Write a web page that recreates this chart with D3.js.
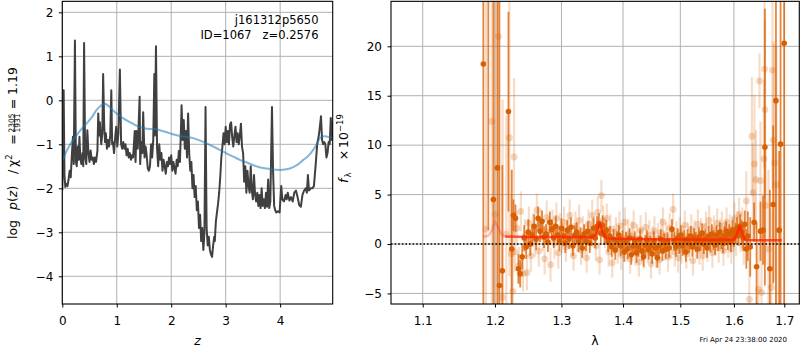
<!DOCTYPE html>
<html><head><meta charset="utf-8">
<script src="https://cdn.jsdelivr.net/npm/d3@7"></script>
<style>
body{margin:0;background:#fff}
svg{display:block}
text{font-family:"DejaVu Sans",sans-serif;fill:#000}
</style>
</head><body>
<svg id="c" width="800" height="350"></svg>
<script>
// ---------------- DATA ----------------
const zTicks = [0, 1, 2, 3, 4];
const logpTicks = [2, 1, 0, -1, -2, -3, -4];
const lamTicks = [1.1, 1.2, 1.3, 1.4, 1.5, 1.6, 1.7];
const fluxTicks = [-5, 0, 5, 10, 15, 20];

// log p(z) curve  [z, log p]
const pzCurve = [
[0.000,-2.05],[0.015,-1.30],[0.025,0.23],[0.040,-1.70],[0.055,-1.97],[0.075,-1.90],[0.095,-1.95],[0.115,-1.80],
[0.135,-1.60],[0.155,-1.75],[0.175,-1.25],[0.195,-0.83],[0.210,-1.45],[0.232,1.36],[0.250,-1.40],[0.265,-1.50],
[0.285,-1.05],[0.300,-1.35],[0.315,-0.83],[0.330,-1.30],[0.350,-1.45],[0.370,-1.20],[0.385,-1.50],[0.400,1.30],
[0.420,-1.30],[0.440,-1.45],[0.460,-0.68],[0.480,-1.20],[0.500,-1.40],[0.520,-1.14],[0.540,-1.35],[0.560,-1.30],
[0.580,-1.45],[0.600,-1.30],[0.620,-1.40],[0.645,-1.15],[0.660,-0.30],[0.675,-0.80],[0.690,-0.50],[0.715,-1.00],
[0.735,-0.75],[0.750,0.60],[0.770,-0.60],[0.785,-0.95],[0.800,-0.75],[0.820,-1.10],[0.840,-0.90],[0.860,-1.05],
[0.880,-0.80],[0.900,0.23],[0.915,-1.00],[0.930,-0.95],[0.950,-1.20],[0.970,-0.85],[0.990,-0.60],[1.010,-1.05],
[1.030,-0.75],[1.057,0.70],[1.080,-1.00],[1.100,-1.10],[1.120,-0.95],[1.140,-1.10],[1.160,-1.00],[1.180,-1.25],
[1.200,-1.10],[1.220,-1.30],[1.240,-1.20],[1.260,-1.35],[1.280,-1.25],[1.300,-1.30],[1.330,-0.70],[1.345,-1.40],
[1.360,-0.70],[1.385,-1.10],[1.420,0.08],[1.430,-1.45],[1.450,-0.95],[1.470,-1.20],[1.485,-0.27],[1.510,-1.30],
[1.530,-1.05],[1.545,-1.20],[1.570,-1.55],[1.590,-1.60],[1.610,-1.50],[1.630,-1.00],[1.650,-1.30],[1.670,-0.90],
[1.690,0.60],[1.700,-0.80],[1.720,1.23],[1.740,-1.10],[1.760,-1.50],[1.780,-1.00],[1.800,-1.35],[1.820,-1.20],
[1.840,-1.60],[1.860,-1.35],[1.880,-1.50],[1.900,-1.67],[1.920,-1.40],[1.940,-1.50],[1.960,-1.30],[1.980,-1.45],
[2.000,-1.25],[2.020,-1.60],[2.040,-1.40],[2.060,-1.55],[2.080,-1.67],[2.100,-1.35],[2.120,-1.50],[2.140,-1.15],
[2.160,-1.40],[2.180,-0.60],[2.190,-0.11],[2.210,-0.90],[2.230,-0.45],[2.250,-1.10],[2.270,-0.70],[2.290,-1.30],
[2.310,-0.30],[2.330,-1.20],[2.350,-1.60],[2.370,-1.40],[2.390,-2.00],[2.410,-1.70],[2.430,-2.20],[2.450,-1.95],
[2.470,-2.50],[2.490,-2.30],[2.510,-2.90],[2.530,-2.60],[2.550,-3.20],[2.570,-2.90],[2.590,-3.40],[2.610,-3.00],
[2.630,-0.15],[2.650,-2.90],[2.670,-3.30],[2.690,-3.10],[2.710,-3.40],[2.730,-3.50],[2.750,-3.56],[2.770,-3.30],
[2.790,-3.10],[2.800,-3.20],[2.820,-2.75],[2.840,-2.55],[2.860,-2.35],[2.880,-2.10],[2.900,-1.75],[2.920,-1.30],
[2.940,-1.05],[2.960,-0.75],[2.980,-1.00],[3.000,-0.60],[3.020,-0.95],[3.040,-0.70],[3.060,-1.00],[3.080,-0.55],
[3.100,-0.50],[3.120,-0.85],[3.140,-1.05],[3.160,-0.80],[3.180,-0.60],[3.200,-0.95],[3.220,-0.75],[3.240,-1.00],
[3.260,-0.80],[3.280,-0.53],[3.300,-1.06],[3.320,-1.20],[3.340,-1.85],[3.360,-1.50],[3.380,-2.10],[3.400,-1.60],
[3.420,-1.95],[3.440,-2.10],[3.460,-1.50],[3.480,-2.05],[3.500,-2.25],[3.520,-1.70],[3.540,-2.15],[3.560,-2.30],
[3.580,-2.10],[3.600,-2.40],[3.620,-2.15],[3.640,-2.45],[3.660,-2.00],[3.680,-2.40],[3.700,-2.25],[3.720,-2.45],
[3.740,-2.10],[3.760,-2.42],[3.780,-1.80],[3.800,-2.45],[3.820,-2.30],[3.850,-0.15],[3.870,-1.60],[3.890,-2.40],
[3.910,-2.50],[3.930,-2.55],[3.960,-2.52],[3.990,-2.55],[4.020,-1.95],[4.040,-2.25],[4.070,-2.30],[4.100,-2.15],
[4.120,-2.25],[4.140,-2.10],[4.170,-2.28],[4.200,-2.20],[4.230,-2.30],[4.260,-2.10],[4.290,-2.05],[4.320,-2.20],
[4.350,-2.38],[4.380,-2.42],[4.410,-2.15],[4.440,-2.05],[4.470,-2.00],[4.490,-2.10],[4.510,-1.70],[4.530,-2.05],
[4.560,-2.00],[4.590,-2.00],[4.620,-1.95],[4.650,-1.50],[4.680,-1.00],[4.710,-0.80],[4.730,-0.60],[4.750,-0.36],
[4.770,-0.90],[4.790,-1.00],[4.810,-0.95],[4.830,-1.00],[4.850,-1.30],[4.870,-1.20],[4.890,-0.95],[4.910,-1.00],
[4.930,-0.40],[4.950,-0.90],[4.965,-0.50]
];

// smooth prior curve [z, log p]
const priorCurve = [
[0.006,-1.36],[0.10,-1.10],[0.20,-0.90],[0.32,-0.70],[0.45,-0.52],[0.55,-0.37],[0.63,-0.22],[0.70,-0.13],
[0.78,-0.08],[0.86,-0.14],[0.94,-0.24],[1.03,-0.33],[1.12,-0.41],[1.25,-0.50],[1.35,-0.57],[1.43,-0.61],
[1.52,-0.64],[1.61,-0.65],[1.70,-0.65],[1.79,-0.68],[1.90,-0.72],[2.03,-0.77],[2.16,-0.81],[2.28,-0.83],
[2.40,-0.86],[2.52,-0.91],[2.65,-0.98],[2.77,-1.05],[2.90,-1.13],[3.02,-1.21],[3.14,-1.28],[3.27,-1.36],
[3.40,-1.42],[3.50,-1.47],[3.62,-1.52],[3.75,-1.55],[3.85,-1.57],[3.93,-1.58],[4.05,-1.58],[4.18,-1.55],
[4.30,-1.48],[4.42,-1.36],[4.52,-1.26],[4.61,-1.12],[4.68,-0.98],[4.73,-0.86],[4.79,-0.82],[4.85,-0.82],
[4.91,-0.84],[4.965,-0.85]
];

// spectrum points, main grism [lambda, flux, err]
const darkPts = [
[1.1833,18.2,40],[1.1904,28,26.6],[1.1977,4.5,40],[1.2035,7.7,35],[1.2064,-4.2,35],[1.2107,-2.7,10.7],
[1.2196,13.4,10.1],[1.2245,-0.5,8],[1.2270,2.9,1.6],[1.2300,2.6,1.4],[1.2343,-2.5,1.5],[1.2370,-3.0,1.4],
[1.240,-1.3,1.3],[1.243,0.6,1.3],[1.246,-0.3,1.2],[1.249,1.2,1.3],[1.252,0.0,1.2],[1.255,0.9,1.1],
[1.258,1.8,1.2],[1.261,0.5,1.1],[1.264,2.6,1.2],[1.267,1.3,1.1],[1.270,2.3,1.1],[1.273,0.7,1.1],
[1.276,1.0,1.0],[1.279,0.2,1.0],[1.282,2.2,1.1],[1.285,1.5,1.0],[1.288,0.6,1.0],[1.291,1.8,1.0],
[1.294,0.9,1.0],[1.297,0.3,1.0],[1.300,1.6,1.0],[1.303,0.8,1.0],[1.306,0.1,1.0],[1.309,1.4,1.0],
[1.312,0.5,1.0],[1.315,1.7,1.0],[1.318,-0.2,1.0],[1.321,0.9,1.0],[1.324,1.2,1.0],[1.327,0.2,1.0],
[1.330,0.7,1.0],[1.333,-0.4,1.0],[1.336,1.0,1.0],[1.339,0.3,1.0],[1.342,1.3,1.0],[1.345,0.1,1.0],
[1.348,0.8,1.0],[1.351,1.6,1.0],[1.354,0.6,1.0],[1.357,1.8,1.0],[1.360,2.1,1.0],[1.363,1.1,1.0],
[1.366,1.9,1.0],[1.369,0.9,1.0],[1.372,1.4,1.0],[1.375,0.2,1.0],[1.378,0.8,1.0],[1.381,-0.3,1.0],
[1.384,0.5,1.0],[1.387,-0.6,1.0],[1.390,0.3,1.0],[1.393,0.9,1.0],[1.396,-0.2,1.0],[1.399,0.4,1.0],
[1.402,-0.8,1.0],[1.405,0.2,1.0],[1.408,-0.5,1.0],[1.411,0.6,1.0],[1.414,-1.1,1.0],[1.417,-0.2,1.0],
[1.420,0.3,1.0],[1.423,-0.9,1.0],[1.426,-0.3,1.0],[1.429,0.5,1.0],[1.432,-0.7,1.0],[1.435,-1.3,1.0],
[1.438,-0.1,1.0],[1.441,0.4,1.0],[1.444,-0.6,1.0],[1.447,-0.2,1.0],[1.450,-1.0,1.0],[1.453,0.3,1.0],
[1.456,-0.4,1.0],[1.459,-1.4,1.0],[1.462,-0.2,1.0],[1.465,0.5,1.0],[1.468,-0.7,1.0],[1.471,0.1,1.0],
[1.474,-0.5,1.0],[1.477,0.2,1.0],[1.480,-0.4,1.0],[1.485,1.5,1.0],[1.489,0.3,1.0],[1.492,-0.3,1.0],
[1.495,0.6,1.0],[1.498,0.0,1.0],[1.501,0.9,1.0],[1.504,-0.2,1.0],[1.507,0.4,1.0],[1.510,-0.8,1.0],
[1.513,0.5,1.0],[1.516,0.1,1.0],[1.519,0.8,1.0],[1.522,-0.3,1.0],[1.525,0.6,1.0],[1.528,0.2,1.0],
[1.531,-0.5,1.0],[1.534,0.7,1.0],[1.537,0.3,1.0],[1.540,1.1,1.0],[1.543,0.0,1.0],[1.546,0.5,1.0],
[1.549,-0.4,1.0],[1.552,0.8,1.0],[1.555,0.2,1.0],[1.558,1.0,1.0],[1.561,0.4,1.0],[1.564,-0.1,1.0],
[1.567,0.9,1.0],[1.570,0.3,1.0],[1.573,1.2,1.0],[1.576,0.5,1.0],[1.579,0.1,1.0],[1.582,0.8,1.0],
[1.585,1.3,1.0],[1.588,0.4,1.0],[1.591,1.0,1.0],[1.594,0.2,1.0],[1.597,1.4,1.0],[1.600,0.7,1.0],
[1.603,1.1,1.1],[1.606,1.6,1.1],[1.609,0.9,1.1],[1.612,1.8,1.2],[1.615,1.2,1.2],[1.618,0.6,1.3],
[1.621,2.0,1.4],[1.624,-0.5,2.0],[1.627,0.8,2.5],[1.6317,-0.3,3],[1.6394,2.2,2],[1.6442,-2.3,4.5],
[1.652,1.3,3],[1.657,1.4,3.5],[1.6607,9.8,14],[1.6707,-2.5,8],[1.6774,4.0,8],[1.683,14.5,30],
[1.6895,1.4,8],[1.6924,10.1,30],[1.6998,20.3,30]
];

// spectrum points, other exposures (faint) [lambda, flux, err]
const lightPts = [
[1.187,1.5,25],[1.1953,12.4,30],[1.2005,3.0,25],[1.205,21.0,30],[1.211,-5.4,20],[1.2165,1.0,12],
[1.221,10.75,14],[1.224,-1.0,6],[1.226,-4.8,8],[1.2279,8.8,8],
[1.229,-0.8,2.0],[1.232,1.6,1.8],[1.235,-2.2,1.9],[1.238,3.3,2.0],[1.241,-3.0,1.8],[1.244,0.8,1.7],
[1.247,-2.9,1.8],[1.250,2.1,1.7],[1.253,-1.2,1.6],[1.256,1.4,1.7],[1.259,0.3,1.6],[1.262,3.4,1.7],
[1.265,-0.7,1.6],[1.268,2.0,1.6],[1.271,0.9,1.6],[1.274,-1.5,1.6],[1.277,2.7,1.7],[1.280,1.2,1.6],
[1.283,-2.1,1.7],[1.286,1.9,1.6],[1.289,0.1,1.6],[1.292,2.6,1.6],[1.295,-0.9,1.6],[1.298,1.5,1.6],
[1.301,0.6,1.5],[1.304,2.2,1.6],[1.307,-0.3,1.5],[1.310,1.1,1.5],[1.313,2.9,1.6],[1.316,0.2,1.5],
[1.319,-1.2,1.5],[1.322,1.8,1.5],[1.325,0.7,1.5],[1.328,2.4,1.6],[1.331,-0.6,1.5],[1.334,1.3,1.5],
[1.337,0.4,1.5],[1.340,-1.4,1.5],[1.343,2.0,1.5],[1.346,0.9,1.5],[1.349,2.9,1.6],[1.352,1.3,1.5],
[1.355,-0.2,1.5],[1.358,3.2,1.6],[1.361,-1.6,1.5],[1.364,4.9,1.6],[1.367,2.4,1.5],[1.370,1.1,1.5],
[1.373,2.6,1.5],[1.376,-0.8,1.5],[1.379,1.5,1.5],[1.382,-1.9,1.5],[1.385,0.4,1.5],[1.388,1.2,1.5],
[1.391,-0.5,1.5],[1.394,1.8,1.5],[1.397,-1.1,1.5],[1.400,0.6,1.5],[1.403,2.2,1.5],[1.406,-0.3,1.5],
[1.409,1.0,1.5],[1.412,-1.5,1.5],[1.415,0.8,1.5],[1.418,1.9,1.5],[1.421,-0.7,1.5],[1.424,0.5,1.5],
[1.427,-1.8,1.5],[1.430,1.4,1.5],[1.433,0.1,1.5],[1.436,-1.0,1.5],[1.439,1.7,1.5],[1.442,-0.4,1.5],
[1.445,0.9,1.5],[1.448,-2.0,1.5],[1.451,0.3,1.5],[1.454,1.3,1.5],[1.457,-0.9,1.5],[1.460,0.6,1.5],
[1.463,-1.6,1.5],[1.466,1.1,1.5],[1.469,2.2,1.5],[1.472,-0.2,1.5],[1.475,0.7,1.5],[1.478,-1.3,1.5],
[1.481,1.6,1.5],[1.484,0.0,1.5],[1.487,3.5,1.6],[1.490,-0.8,1.5],[1.493,0.8,1.5],[1.496,-1.4,1.5],
[1.499,1.2,1.5],[1.502,-0.5,1.5],[1.505,0.4,1.5],[1.508,1.9,1.5],[1.511,-1.0,1.5],[1.514,0.7,1.5],
[1.517,-0.2,1.5],[1.520,1.5,1.5],[1.523,-1.7,1.5],[1.526,0.9,1.5],[1.529,0.2,1.5],[1.532,2.0,1.5],
[1.535,-0.6,1.5],[1.538,1.1,1.5],[1.541,-1.2,1.5],[1.544,0.5,1.5],[1.547,1.8,1.5],[1.550,-0.3,1.5],
[1.553,2.4,1.5],[1.556,0.6,1.5],[1.559,-0.9,1.5],[1.562,1.4,1.5],[1.565,0.3,1.5],[1.568,2.1,1.5],
[1.571,-0.4,1.5],[1.574,1.0,1.5],[1.577,1.8,1.5],[1.580,-0.7,1.5],[1.583,0.8,1.5],[1.586,2.2,1.5],
[1.589,0.1,1.5],[1.592,1.5,1.5],[1.595,-0.5,1.5],[1.598,1.2,1.5],[1.601,2.6,1.6],[1.604,0.4,1.6],
[1.607,1.7,1.6],[1.610,3.0,1.7],[1.613,0.9,1.7],[1.616,1.9,1.8],[1.619,-0.2,1.9],
[1.624,4.35,3],[1.630,-5.6,4],[1.635,10.9,6],[1.637,5.2,5],[1.640,8.1,7],[1.643,6.5,5],[1.648,-4.6,5],
[1.650,16.5,2.8],[1.652,6.4,6],[1.654,-4.9,6],[1.659,8.6,8],[1.660,17.7,10],[1.661,13.6,9],[1.662,3.9,6],
[1.668,-0.5,8],[1.674,-4.4,8],[1.676,17.6,12],[1.678,10.5,10],[1.680,8.2,12],[1.684,6.0,14]
];

// best-fit model [lambda, flux]
const modelCurve = [
[1.183,0.75],[1.190,0.80],[1.195,1.30],[1.200,2.30],[1.205,1.60],[1.210,0.90],[1.215,0.75],
[1.250,0.72],[1.300,0.70],[1.350,0.68],[1.355,1.00],[1.361,2.10],[1.367,1.10],[1.372,0.55],
[1.400,0.52],[1.450,0.48],[1.500,0.45],[1.550,0.43],[1.600,0.42],[1.605,0.90],[1.611,1.80],
[1.617,0.90],[1.622,0.40],[1.660,0.38],[1.695,0.37]
];
const modelFaintMax = 1.215;

// ---------------- DRAW ----------------
const svg = d3.select('#c');
const minus = s => String(s).replace('-', '\u2212');
const L = {x0:62.3, x1:332.7, y0:1.33, y1:304};
const R = {x0:391, x1:799.3, y0:1.33, y1:304};

const xz = d3.scaleLinear().domain([0, 4.965]).range([L.x0, L.x1]);
const yl = d3.scaleLinear().domain([-4.63, 2.25]).range([L.y1, L.y0]);
const xl = d3.scaleLog().domain([1.0588, 1.731]).range([R.x0, R.x1]);
const yf = d3.scaleLinear().domain([-6.07, 24.55]).range([R.y1, R.y0]);

const defs = svg.append('defs');
defs.append('clipPath').attr('id','clipL').append('rect')
  .attr('x',L.x0).attr('y',L.y0).attr('width',L.x1-L.x0).attr('height',L.y1-L.y0);
defs.append('clipPath').attr('id','clipR').append('rect')
  .attr('x',R.x0).attr('y',R.y0).attr('width',R.x1-R.x0).attr('height',R.y1-R.y0);

const gridCol = '#b0b0b0';
function grid(P, xs, xv, ys, yv) {
  const g = svg.append('g');
  g.selectAll('.gx').data(xv).enter().append('line')
    .attr('x1', d=>xs(d)).attr('x2', d=>xs(d)).attr('y1',P.y0).attr('y2',P.y1)
    .attr('stroke',gridCol).attr('stroke-width',1);
  g.selectAll('.gy').data(yv).enter().append('line')
    .attr('y1', d=>ys(d)).attr('y2', d=>ys(d)).attr('x1',P.x0).attr('x2',P.x1)
    .attr('stroke',gridCol).attr('stroke-width',1);
}
grid(L, xz, zTicks, yl, logpTicks);
grid(R, xl, lamTicks, yf, fluxTicks);

// ----- left panel lines
const gl = svg.append('g').attr('clip-path','url(#clipL)');
gl.append('path').datum(pzCurve)
  .attr('d', d3.line().x(d=>xz(d[0])).y(d=>yl(d[1])))
  .attr('fill','none').attr('stroke','#404040').attr('stroke-width',2).attr('stroke-linejoin','round');
gl.append('path').datum(priorCurve)
  .attr('d', d3.line().curve(d3.curveCatmullRom).x(d=>xz(d[0])).y(d=>yl(d[1])))
  .attr('fill','none').attr('stroke','#1f77b4').attr('stroke-opacity',0.55).attr('stroke-width',2);

// ----- right panel
const orange = '#d95f02';
const gr = svg.append('g').attr('clip-path','url(#clipR)');
function errPts(g, data, op, lw, r) {
  g.selectAll(null).data(data).enter().append('line')
    .attr('x1', d=>xl(d[0])).attr('x2', d=>xl(d[0]))
    .attr('y1', d=>yf(d[1]-d[2])).attr('y2', d=>yf(d[1]+d[2]))
    .attr('stroke', orange).attr('stroke-opacity', op.bar).attr('stroke-width', lw);
  g.selectAll(null).data(data).enter().append('circle')
    .attr('cx', d=>xl(d[0])).attr('cy', d=>yf(d[1])).attr('r', r)
    .attr('fill', orange).attr('fill-opacity', op.pt);
}
errPts(gr.append('g'), lightPts, {bar:0.22, pt:0.25}, 2.2, 3.4);
errPts(gr.append('g'), darkPts, {bar:0.75, pt:1}, 1.8, 2.8);

const mline = d3.line().x(d=>xl(d[0])).y(d=>yf(d[1]));
gr.append('path').datum(modelCurve.filter(d=>d[0] <= modelFaintMax))
  .attr('d', mline).attr('fill','none').attr('stroke','#ff2a2a').attr('stroke-opacity',0.3).attr('stroke-width',2.5);
gr.append('path').datum(modelCurve.filter(d=>d[0] >= modelFaintMax))
  .attr('d', mline).attr('fill','none').attr('stroke','#ff2000').attr('stroke-opacity',0.75).attr('stroke-width',2.5)
  .attr('stroke-linejoin','round');

gr.append('line').attr('x1',R.x0).attr('x2',R.x1).attr('y1',yf(0)).attr('y2',yf(0))
  .attr('stroke','#000').attr('stroke-width',1.6).attr('stroke-dasharray','1.6,2');

// ----- axes
const fs = '12px';
function styleAxis(g) {
  g.select('.domain').remove();
  g.selectAll('.tick line').attr('stroke','#000').attr('stroke-width',1);
  g.selectAll('.tick text').attr('font-family','DejaVu Sans').attr('font-size',fs).attr('fill','#000');
}
svg.append('g').attr('transform',`translate(0,${L.y1})`)
  .call(d3.axisBottom(xz).tickValues(zTicks).tickSize(3.5).tickPadding(8.5).tickFormat(d=>minus(d)))
  .call(styleAxis);
svg.append('g').attr('transform',`translate(${L.x0},0)`)
  .call(d3.axisLeft(yl).tickValues(logpTicks).tickSize(3.5).tickPadding(5.5).tickFormat(d=>minus(d)))
  .call(styleAxis);
svg.append('g').attr('transform',`translate(0,${R.y1})`)
  .call(d3.axisBottom(xl).tickValues(lamTicks).tickSize(3.5).tickPadding(8.5).tickFormat(d3.format('.1f')))
  .call(styleAxis);
svg.append('g').attr('transform',`translate(${R.x0},0)`)
  .call(d3.axisLeft(yf).tickValues(fluxTicks).tickSize(3.5).tickPadding(5.5).tickFormat(d=>minus(d)))
  .call(styleAxis);

// frames
[L, R].forEach(P => svg.append('rect').attr('x',P.x0).attr('y',P.y0)
  .attr('width',P.x1-P.x0).attr('height',P.y1-P.y0)
  .attr('fill','none').attr('stroke','#000').attr('stroke-width',1.1));

// annotation
const ann = svg.append('g').attr('font-size','11.5px').attr('text-anchor','end');
ann.append('text').attr('x',318.5).attr('y',24).text('j161312p5650');
ann.append('text').attr('x',318.5).attr('y',38.5).attr('xml:space','preserve')
  .style('white-space','pre').text('ID=1067   z=0.2576');

// x labels
svg.append('text').attr('x',197.5).attr('y',345).attr('text-anchor','middle')
  .attr('font-size','12.5px').attr('font-style','italic').text('z');
svg.append('text').attr('x',595).attr('y',345).attr('text-anchor','middle')
  .attr('font-size','12.5px').text('\u03bb');

// left y label (rotated)
const yl1 = svg.append('g').attr('transform','translate(17,153) rotate(-90)').attr('font-size','12.5px');
yl1.append('text').attr('x',-86).attr('y',0).text('log');
yl1.append('text').attr('x',-57).attr('y',0).html('<tspan font-style="italic">p</tspan>(<tspan font-style="italic">z</tspan>)');
yl1.append('text').attr('x',-19).attr('y',0).attr('text-anchor','middle').text('/');
yl1.append('text').attr('x',-14).attr('y',0).html('\u03c7<tspan font-size="8.5px" dy="-5">2</tspan>');
yl1.append('text').attr('x',13.5).attr('y',0).attr('text-anchor','middle').text('=');
yl1.append('text').attr('x',30).attr('y',-3.4).attr('text-anchor','middle').attr('font-size','7.5px').text('2305');
yl1.append('line').attr('x1',21).attr('x2',39).attr('y1',-2.4).attr('y2',-2.4).attr('stroke','#000').attr('stroke-width',0.7);
yl1.append('text').attr('x',30).attr('y',3.4).attr('text-anchor','middle').attr('font-size','7.5px').text('1931');
yl1.append('text').attr('x',49).attr('y',0).attr('text-anchor','middle').text('=');
yl1.append('text').attr('x',58).attr('y',0).text('1.19');

// right y label (rotated)
const yl2 = svg.append('g').attr('transform','translate(348,152) rotate(-90)').attr('font-size','12.5px');
yl2.append('text').attr('x',-31).attr('y',0).attr('font-style','italic').text('f');
yl2.append('text').attr('x',-25.5).attr('y',3).attr('font-size','8.5px').text('\u03bb');
yl2.append('text').attr('x',-3).attr('y',0).attr('text-anchor','middle').text('\u00d7');
yl2.append('text').attr('x',4).attr('y',0).text('10');
yl2.append('text').attr('x',20).attr('y',-5).attr('font-size','8.5px').text('\u221219');

// timestamp
svg.append('text').attr('x',787).attr('y',342).attr('text-anchor','end')
  .attr('font-size','7px').text('Fri Apr 24 23:38:00 2020');
</script>
</body></html>
